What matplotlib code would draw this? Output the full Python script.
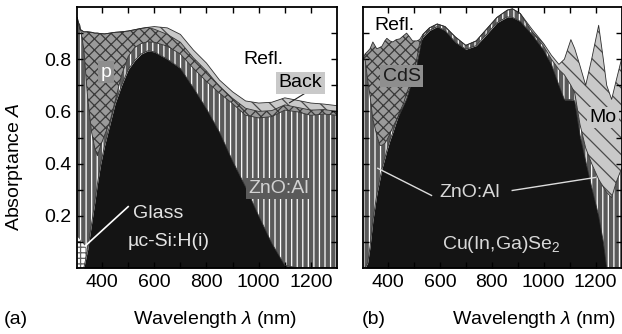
import numpy as np
import matplotlib
matplotlib.use('Agg')
import matplotlib.pyplot as plt

plt.rcParams['font.family'] = ['Liberation Sans', 'DejaVu Sans']
plt.rcParams['mathtext.fontset'] = 'custom'
plt.rcParams['mathtext.rm'] = 'Liberation Sans'
plt.rcParams['mathtext.it'] = 'Liberation Sans:italic'
plt.rcParams['hatch.linewidth'] = 0.9
plt.rcParams['font.size'] = 14

# --- (a) micromorph / uc-Si:H cell, cumulative absorptance edges ---
a_lam = [305, 315, 330, 345, 360, 372, 382, 395, 410, 430, 450, 475, 500, 525,
         550, 575, 600, 650, 700, 750, 800, 850, 900, 950, 1000, 1050, 1100,
         1150, 1200, 1250, 1300]
a_si_i = [0, 0, 0, 0.07, 0.17, 0.25, 0.32, 0.40, 0.47, 0.55, 0.63, 0.70, 0.76,
          0.795, 0.82, 0.832, 0.828, 0.80, 0.765, 0.69, 0.61, 0.52, 0.41, 0.31,
          0.20, 0.095, 0.01, 0, 0, 0, 0]
a_glass = [0.12, 0.11, 0.09, 0.07, 0.17, 0.25, 0.32, 0.40, 0.47, 0.55, 0.63,
           0.70, 0.76, 0.795, 0.82, 0.832, 0.828, 0.80, 0.765, 0.69, 0.61, 0.52,
           0.41, 0.31, 0.20, 0.095, 0.01, 0, 0, 0, 0]
a_zno = [0.95, 0.93, 0.84, 0.65, 0.52, 0.46, 0.43, 0.47, 0.51, 0.56, 0.64, 0.74,
         0.81, 0.845, 0.86, 0.867, 0.865, 0.85, 0.82, 0.765, 0.715, 0.67, 0.63,
         0.585, 0.575, 0.58, 0.605, 0.598, 0.585, 0.59, 0.585]
a_p = [0.96, 0.915, 0.905, 0.905, 0.903, 0.90, 0.90, 0.898, 0.897, 0.90, 0.903,
       0.905, 0.908, 0.913, 0.918, 0.922, 0.915, 0.895, 0.865, 0.805, 0.755,
       0.695, 0.65, 0.612, 0.600, 0.603, 0.625, 0.615, 0.605, 0.607, 0.600]
a_total = [0.96, 0.915, 0.905, 0.905, 0.903, 0.90, 0.90, 0.898, 0.897, 0.90,
           0.903, 0.905, 0.908, 0.913, 0.918, 0.922, 0.925, 0.92, 0.895, 0.835,
           0.785, 0.72, 0.675, 0.64, 0.632, 0.635, 0.652, 0.642, 0.632, 0.628,
           0.622]

# --- (b) Cu(In,Ga)Se2 cell ---
b_lam = [304, 312, 322, 331, 342, 357, 369, 377, 388, 396, 408, 419, 432, 446,
         460, 472, 484, 495, 511, 522, 535, 560, 590, 620, 660, 700, 740, 780,
         820, 860, 880, 910, 955, 1000, 1030, 1059, 1080, 1105, 1120, 1140,
         1162, 1185, 1212, 1230, 1243, 1262, 1280, 1300]
b_cigs = [0, 0, 0.02, 0.08, 0.18, 0.28, 0.34, 0.38, 0.42, 0.45, 0.49, 0.52,
          0.56, 0.60, 0.63, 0.67, 0.70, 0.74, 0.80, 0.86, 0.885, 0.91, 0.925,
          0.91, 0.865, 0.838, 0.852, 0.895, 0.94, 0.962, 0.96, 0.945, 0.895,
          0.835, 0.78, 0.70, 0.645, 0.645, 0.64, 0.51, 0.41, 0.31, 0.20, 0.10,
          0, 0, 0, 0]
b_zno = [0.80, 0.80, 0.72, 0.66, 0.57, 0.51, 0.47, 0.47, 0.478, 0.49, 0.515,
         0.54, 0.565, 0.59, 0.62, 0.646, 0.685, 0.72, 0.774, 0.83, 0.895, 0.92,
         0.935, 0.925, 0.885, 0.853, 0.87, 0.915, 0.96, 0.988, 0.993, 0.975,
         0.905, 0.85, 0.80, 0.76, 0.74, 0.70, 0.67, 0.55, 0.46, 0.40, 0.34,
         0.31, 0.29, 0.27, 0.33, 0.38]
b_total = [0.80, 0.82, 0.83, 0.84, 0.866, 0.84, 0.845, 0.85, 0.87, 0.88, 0.87,
           0.866, 0.875, 0.878, 0.89, 0.90, 0.885, 0.87, 0.87, 0.875, 0.895,
           0.92, 0.935, 0.925, 0.885, 0.853, 0.87, 0.915, 0.96, 0.988, 0.993,
           0.975, 0.915, 0.86, 0.815, 0.78, 0.80, 0.875, 0.84, 0.775, 0.70,
           0.80, 0.93, 0.80, 0.70, 0.646, 0.72, 0.80]

BLACK = '#141414'
ZNO = '#5a5a5a'
MID = '#9a9a9a'
LIGHT = '#c9c9c9'
EDGE = '#2e2e2e'


def layer(ax, x, lo, hi, face, hatch=None, hcolor=None, where=None):
    ax.fill_between(x, lo, hi, where=where, interpolate=True,
                    facecolor=face, edgecolor=hcolor or face,
                    hatch=hatch, linewidth=0)


def style(ax, labels=True):
    ax.set_xlim(304, 1300)
    ax.set_ylim(0, 1.0)
    ax.set_xticks([400, 600, 800, 1000, 1200])
    ax.set_xticks([500, 700, 900, 1100], minor=True)
    ax.set_yticks([0.2, 0.4, 0.6, 0.8])
    ax.set_yticks([0.1, 0.3, 0.5, 0.7, 0.9], minor=True)
    ax.tick_params(which='both', direction='in', top=True, right=True,
                   length=4, width=1.0, labelsize=14, pad=4)
    if not labels:
        ax.set_yticklabels([])
    for s in ax.spines.values():
        s.set_linewidth(1.3)
        s.set_zorder(5)


fig = plt.figure(figsize=(6.22, 3.34), dpi=100)
ax1 = fig.add_axes([77 / 622, 66 / 334, 260 / 622, 261 / 334])
ax2 = fig.add_axes([363 / 622, 66 / 334, 258.5 / 622, 261 / 334])

# panel (a)
x = np.array(a_lam)
layer(ax1, x, 0, a_si_i, BLACK)
layer(ax1, x, a_si_i, a_glass, 'white', '+++', '#606060')
layer(ax1, x, a_glass, a_zno, ZNO, '|||', 'white')
layer(ax1, x, a_zno, a_p, MID, 'xxx', '#3a3a3a')
layer(ax1, x, a_p, a_total, LIGHT, '\\\\', '#4a4a4a')
for c in (a_si_i, a_zno, a_p, a_total):
    ax1.plot(x, c, color=EDGE, lw=0.6)
style(ax1)

ax1.text(416, 0.75, 'p', color='white', ha='center', va='center',
         bbox=dict(boxstyle='square,pad=0.12', fc='#8e8e8e', ec='none'))
ax1.text(1018, 0.80, 'Refl.', ha='center', va='center')
ax1.text(1160, 0.71, 'Back', ha='center', va='center',
         bbox=dict(boxstyle='square,pad=0.12', fc=LIGHT, ec='none'))
ax1.plot([1185, 1118], [0.674, 0.633], color='#222222', lw=0.8)
ax1.text(1075, 0.305, 'ZnO:Al', color='#d2d2d2', ha='center', va='center',
         bbox=dict(boxstyle='square,pad=0.12', fc=ZNO, ec='none'))
ax1.text(615, 0.21, 'Glass', color='#e4e4e4', ha='center', va='center')
ax1.text(654, 0.10, 'µc-Si:H(i)', color='#e4e4e4', ha='center', va='center')
ax1.plot([500, 336], [0.235, 0.085], color='white', lw=1.2)

# panel (b)
x = np.array(b_lam)
layer(ax2, x, 0, b_cigs, BLACK)
layer(ax2, x, b_cigs, b_zno, ZNO, '|||', 'white')
layer(ax2, x, b_zno, b_total, MID, 'xxx', '#3a3a3a', where=x <= 540)
layer(ax2, x, b_zno, b_total, LIGHT, '\\\\', '#4a4a4a', where=x >= 955)
for c in (b_cigs, b_zno, b_total):
    ax2.plot(x, c, color=EDGE, lw=0.6)
style(ax2, labels=False)

ax2.text(427, 0.93, 'Refl.', ha='center', va='center')
ax2.text(453, 0.735, 'CdS', color='#1a1a1a', ha='center', va='center',
         bbox=dict(boxstyle='square,pad=0.12', fc='#8e8e8e', ec='none'))
ax2.text(1176, 0.576, 'Mo', ha='left', va='center',
         bbox=dict(boxstyle='square,pad=0.12', fc=LIGHT, ec='none'))
ax2.text(714, 0.29, 'ZnO:Al', color='#d8d8d8', ha='center', va='center')
ax2.plot([568, 361], [0.278, 0.382], color='#dddddd', lw=1.0)
ax2.plot([879, 1200], [0.297, 0.347], color='#dddddd', lw=1.0)
ax2.text(837, 0.09, r'Cu(In,Ga)Se$_2$', color='#d8d8d8', ha='center',
         va='center')

fig.text(15 / 622, 1 - 167 / 334, r'Absorptance $A$', rotation=90,
         ha='center', va='center')
fig.text(4 / 622, 1 - 319 / 334, '(a)', va='center')
fig.text(215 / 622, 1 - 319 / 334, r'Wavelength $\lambda$ (nm)',
         ha='center', va='center')
fig.text(362 / 622, 1 - 319 / 334, '(b)', va='center')
fig.text(534 / 622, 1 - 319 / 334, r'Wavelength $\lambda$ (nm)',
         ha='center', va='center')

fig.savefig('out.png', dpi=100)
